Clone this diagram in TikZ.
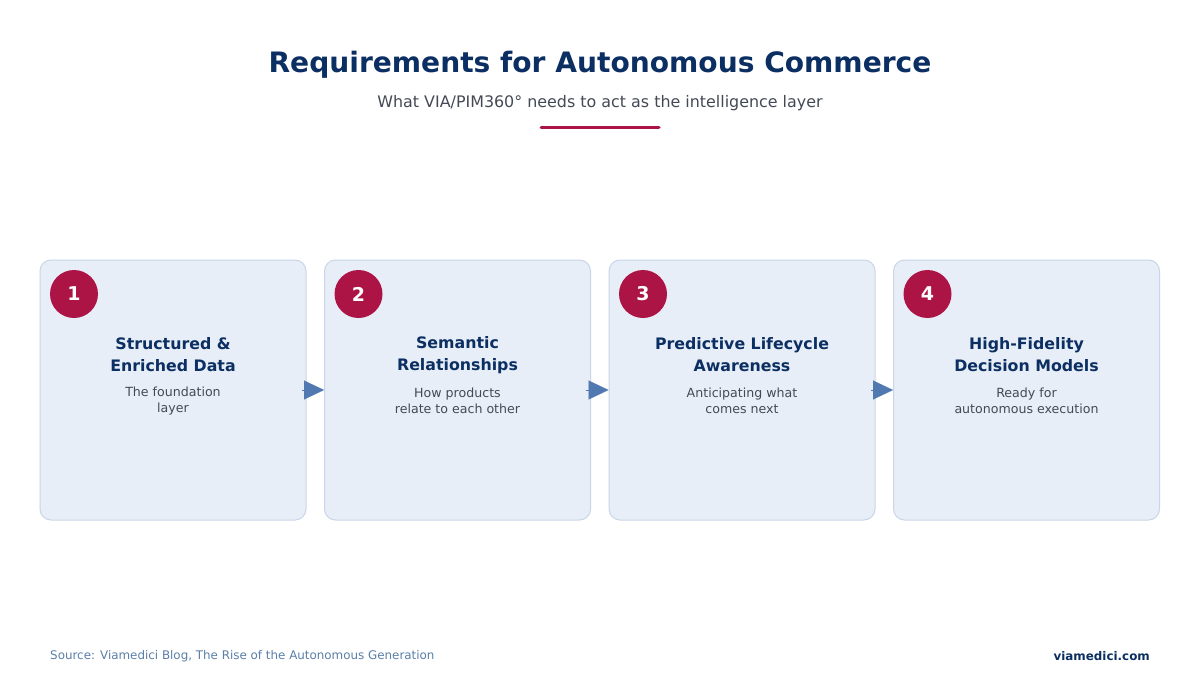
\documentclass[tikz,border=0pt]{standalone}
\usepackage{fontspec}
\setmainfont{DejaVu Sans}
\usetikzlibrary{arrows.meta}
\definecolor{navy}{HTML}{0B2F62}
\definecolor{crim}{HTML}{AD1446}
\definecolor{cardf}{HTML}{E8EEF7}
\definecolor{cardb}{HTML}{C9D6E8}
\definecolor{arr}{HTML}{4F79B0}
\definecolor{sub}{HTML}{444A55}
\definecolor{src}{HTML}{5B7FA8}
\begin{document}
\begin{tikzpicture}[x=1pt,y=-1pt,
 card/.style={draw=cardb,line width=1pt,fill=cardf,rounded corners=11pt,minimum width=266pt,minimum height=260pt,inner sep=0pt},
 num/.style={circle,fill=crim,minimum size=48pt,inner sep=0pt,text=white,font=\fontsize{19}{19}\bfseries\selectfont},
 ttl/.style={align=center,text=navy,font=\fontsize{15.8}{22}\bfseries\selectfont},
 dsc/.style={align=center,text=sub,font=\fontsize{12.6}{16}\selectfont},
 flow/.style={draw=arr,line width=0.1pt,-{Triangle[length=20pt,width=19pt,fill=arr]}}]
\useasboundingbox (0,0) rectangle (1200,680);
\fill[white] (0,0) rectangle (1200,680);
\node[text=navy,font=\fontsize{28.1}{28}\bfseries\selectfont] (title) at (600,65) {Requirements for Autonomous Commerce};
\node[text=sub,font=\fontsize{15.9}{16}\selectfont] (subt) at (600,103) {What VIA/PIM360° needs to act as the intelligence layer};
\draw[crim,line width=3pt,line cap=round] (541,127) -- (659,127);
\foreach \i/\x/\t/\d in {1/173/{Structured \&\\Enriched Data}/{The foundation\\layer},
 2/457.5/{Semantic\\Relationships}/{How products\\relate to each other},
 3/742/{Predictive Lifecycle\\Awareness}/{Anticipating what\\comes next},
 4/1026.5/{High-Fidelity\\Decision Models}/{Ready for\\autonomous execution}}{
 \node[card] (c\i) at (\x,390) {};
 \node[num] (n\i) at (\x-99,294) {\i};
 \node[ttl] (t\i) at (\x,355) {\t};
 \node[dsc] (d\i) at (\x,401) {\d};
}
\foreach \a/\b in {1/2,2/3,3/4}{\draw[flow] ([xshift=-5pt]c\a.east) -- (c\b.west);}
\node[anchor=west,inner sep=0pt,text=src,font=\fontsize{11.9}{12}\selectfont] (source) at (50,656) {Source: Viamedici Blog, The Rise of the Autonomous Generation};
\node[anchor=east,inner sep=0pt,text=navy,font=\fontsize{11.9}{12}\bfseries\selectfont] (site) at (1150,656) {viamedici.com};
\end{tikzpicture}
\end{document}
